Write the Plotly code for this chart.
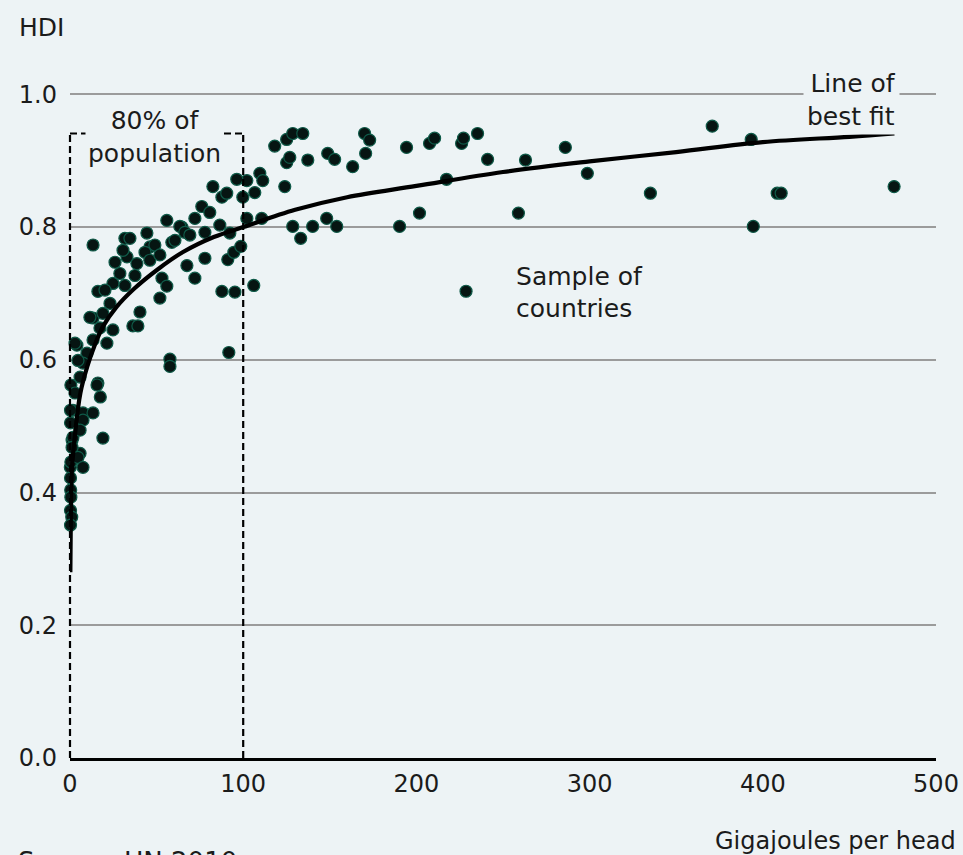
import plotly.graph_objects as go

# ---- data ----
energy_gj = [
    118.2, 125.1, 128.6, 134.4, 170.1, 173.0, 125.1, 126.9, 137.3, 148.8, 152.8, 163.2, 170.7,
    109.6, 111.3, 124.0, 106.7, 102.1, 99.8, 102.1, 110.7, 128.6, 133.2, 140.1, 148.2, 154.0,
    194.3, 207.6, 210.5, 226.1, 227.2, 235.3, 241.1, 263.0, 217.4, 201.8, 190.3, 258.9, 286.0,
    298.7, 335.1, 370.8, 393.3, 394.5, 408.3, 410.6, 475.8, 106.1, 96.3,
    13.3, 31.7, 34.6, 44.4, 55.9, 46.1, 58.8, 64.6, 72.1, 76.1, 80.7, 82.5, 87.7, 90.5, 63.4,
    66.3, 86.5, 92.3, 77.9, 67.5, 72.1, 53.1, 55.9, 51.9, 87.7, 95.2, 91.1, 94.6, 98.6, 91.7,
    57.7, 57.7, 16.1, 40.4, 36.3, 39.2, 13.3, 24.8, 4.0, 16.1, 19.0, 32.9, 38.6, 28.8, 23.1,
    19.0, 24.8, 13.3, 9.8, 7.5, 5.8, 1.7, 17.5, 7.5, 5.8, 1.2, 0.2, 11.5, 17.3, 21.3, 0.5,
    2.9, 0.3, 0.3, 1.7, 1.2, 0.5, 0.3, 0.4, 0.5, 0.3, 1.0, 0.3, 15.6, 13.3, 7.5, 5.8, 4.6,
    7.5, 2.9, 4.6, 26.0, 30.6, 43.3, 49.0, 37.5, 46.1, 20.2, 31.7, 51.9, 60.6, 69.2, 77.9,
]
hdi = [
    0.922, 0.932, 0.941, 0.941, 0.941, 0.931, 0.897, 0.905, 0.901, 0.911, 0.902, 0.891, 0.911,
    0.881, 0.870, 0.861, 0.852, 0.870, 0.845, 0.813, 0.813, 0.801, 0.783, 0.801, 0.813, 0.801,
    0.920, 0.926, 0.934, 0.926, 0.934, 0.941, 0.902, 0.901, 0.872, 0.821, 0.801, 0.821, 0.920,
    0.881, 0.851, 0.952, 0.932, 0.801, 0.851, 0.851, 0.861, 0.712, 0.872,
    0.773, 0.783, 0.783, 0.791, 0.810, 0.770, 0.777, 0.800, 0.813, 0.831, 0.822, 0.861, 0.845,
    0.851, 0.801, 0.792, 0.803, 0.791, 0.753, 0.742, 0.723, 0.723, 0.711, 0.693, 0.703, 0.702,
    0.751, 0.762, 0.771, 0.611, 0.601, 0.590, 0.703, 0.672, 0.651, 0.651, 0.663, 0.715, 0.622,
    0.565, 0.482, 0.755, 0.745, 0.730, 0.685, 0.670, 0.645, 0.630, 0.610, 0.595, 0.574, 0.524,
    0.544, 0.520, 0.459, 0.479, 0.438, 0.664, 0.648, 0.625, 0.562, 0.550, 0.524, 0.505, 0.483,
    0.468, 0.446, 0.422, 0.404, 0.393, 0.373, 0.363, 0.351, 0.562, 0.520, 0.509, 0.494, 0.453,
    0.438, 0.625, 0.599, 0.747, 0.765, 0.762, 0.773, 0.727, 0.750, 0.705, 0.712, 0.758, 0.780,
    0.788, 0.792,
]

fit_x = [0.2, 0.5, 1, 3, 6, 10, 14, 19, 27, 37, 50, 65, 83, 100, 130, 160, 200, 250, 300,
         350, 400, 450, 476]
fit_y = [0.28, 0.37, 0.43, 0.49, 0.55, 0.59, 0.62, 0.65, 0.68, 0.707, 0.735, 0.762, 0.785,
         0.80, 0.826, 0.845, 0.862, 0.883, 0.899, 0.913, 0.928, 0.936, 0.941]

x_ticks = [0, 100, 200, 300, 400, 500]
y_ticks = [0.0, 0.2, 0.4, 0.6, 0.8, 1.0]
y_tick_text = ["0.0", "0.2", "0.4", "0.6", "0.8", "1.0"]

box_x = [0, 100]       # "80% of population" bracket
box_top = 0.941

BG = "#edf3f5"
FONT = "DejaVu Sans"
TXT = "#1b1b1b"

fig = go.Figure()

fig.add_trace(go.Scatter(
    x=energy_gj, y=hdi, mode="markers", name="Sample of<br>countries",
    marker=dict(size=12, color="#061512", line=dict(color="#0f5a48", width=1.2)),
    cliponaxis=False, showlegend=True,
))
fig.add_trace(go.Scatter(
    x=fit_x, y=fit_y, mode="lines", line=dict(color="black", width=4.2, shape="spline"),
    showlegend=False, cliponaxis=False,
))

dash = dict(color="black", width=2.2, dash="7px,4px")
# left edge sits on the plot border, so draw it in paper space to avoid clipping
fig.add_shape(type="line", xref="paper", yref="y", x0=0, x1=0, y0=0, y1=box_top, line=dash)
fig.add_shape(type="line", x0=box_x[1], x1=box_x[1], y0=0, y1=box_top, line=dash)
fig.add_shape(type="line", x0=box_x[0], x1=box_x[1], y0=box_top, y1=box_top, line=dash)

fig.add_annotation(x=49, y=0.935, xref="x", yref="y", text="80% of<br>population",
                   showarrow=False, font=dict(size=25, color=TXT, family=FONT),
                   bgcolor=BG, borderpad=2)
fig.add_annotation(x=479.2, y=0.992, xref="x", yref="y", text="Line of<br>best fit",
                   showarrow=False, xanchor="right", align="right",
                   font=dict(size=25, color=TXT, family=FONT), bgcolor=BG, borderpad=3)
fig.add_annotation(x=-0.061, y=1.099, xref="paper", yref="paper", text="HDI",
                   showarrow=False, xanchor="left", yanchor="middle",
                   font=dict(size=25, color=TXT, family=FONT))
fig.add_annotation(x=1.0254, y=-0.125, xref="paper", yref="paper", text="Gigajoules per head",
                   showarrow=False, xanchor="right", yanchor="middle",
                   font=dict(size=24, color=TXT, family=FONT))
fig.add_annotation(x=-0.062, y=-0.131, xref="paper", yref="paper", text="Source: UN 2010",
                   showarrow=False, xanchor="left", yanchor="top",
                   font=dict(size=26, color=TXT, family=FONT))

fig.update_layout(
    width=963, height=855, autosize=False,
    margin=dict(l=70, r=27, t=93, b=97, autoexpand=False),
    paper_bgcolor=BG, plot_bgcolor=BG,
    font=dict(family=FONT, color=TXT, size=24),
    legend=dict(x=0.3996, y=0.7605, xanchor="left", yanchor="top",
                bgcolor="rgba(0,0,0,0)", font=dict(size=25, family=FONT, color=TXT),
                itemwidth=90, valign="middle"),
    xaxis=dict(range=[0, 500], tickvals=x_ticks, showgrid=False, zeroline=False,
               showline=True, linecolor="black", linewidth=2.5, ticks="",
               tickfont=dict(size=24), ticklabelstandoff=2, automargin=False),
    yaxis=dict(range=[0, 1.002], tickvals=y_ticks, ticktext=y_tick_text, showgrid=True,
               gridcolor="#9b9b9b", gridwidth=2, zeroline=False, showline=False,
               ticks="", tickfont=dict(size=24), ticklabelstandoff=12, automargin=False),
)

fig.write_html(
    "out.html",
    config={"displayModeBar": False, "responsive": False},
    post_script="document.body.style.margin='0';"
                "document.body.style.background='#edf3f5';"
                "document.body.style.overflow='hidden';",
)
